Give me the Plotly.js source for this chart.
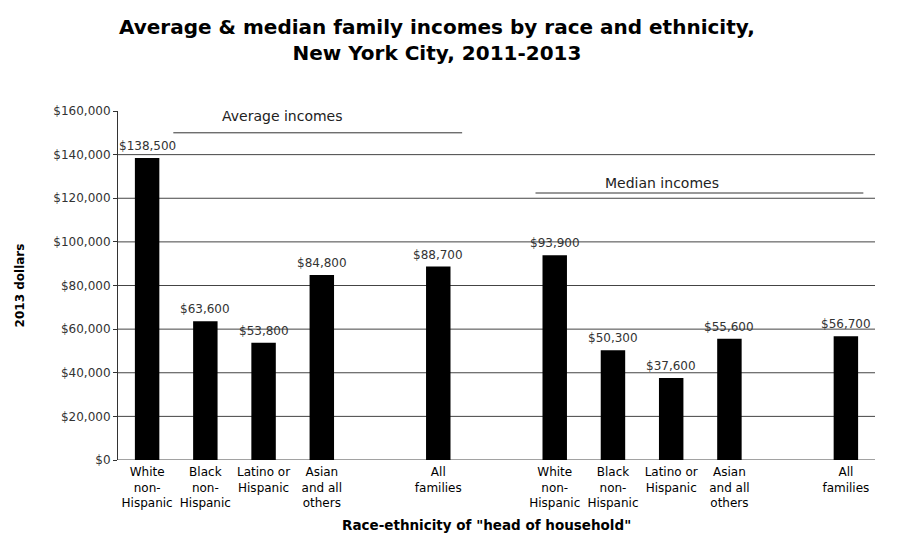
<!DOCTYPE html>
<html>
<head>
<meta charset="utf-8">
<script src="https://cdn.plot.ly/plotly-3.0.1.min.js"></script>
<style>
  body { margin: 0; background: #fff; }
  #plot { width: 900px; height: 549px; }
</style>
</head>
<body>
<div id="plot"></div>
<script>
// Categorias y valores (dolares de 2013)
const groupLabels = ['White<br>non-<br>Hispanic', 'Black<br>non-<br>Hispanic', 'Latino or<br>Hispanic', 'Asian<br>and all<br>others', 'All<br>families'];
const averageIncomes = [138500, 63600, 53800, 84800, 88700];
const medianIncomes = [93900, 50300, 37600, 55600, 56700];

// Posicion de cada barra: 4 grupos juntos, un hueco, "All families"
const slotOf = i => (i < 4 ? i : 5);
const MEDIAN_OFFSET = 7;

const xAvg = groupLabels.map((_, i) => slotOf(i));
const xMed = groupLabels.map((_, i) => slotOf(i) + MEDIAN_OFFSET);
const fmt = v => '$' + v.toLocaleString('en-US');

const FONT = 'DejaVu Sans, Liberation Sans, sans-serif';

const traces = [
    {
        type: 'bar', x: xAvg, y: averageIncomes,
        marker: { color: '#000' }, width: 0.42, showlegend: false, hoverinfo: 'skip'
    },
    {
        type: 'bar', x: xMed, y: medianIncomes,
        marker: { color: '#000' }, width: 0.42, showlegend: false, hoverinfo: 'skip'
    }
];

// Etiquetas de valor encima de cada barra
const annotations = [];
const allX = xAvg.concat(xMed);
const allV = averageIncomes.concat(medianIncomes);
allX.forEach((x, i) => {
    annotations.push({
        x, y: allV[i], xref: 'x', yref: 'y', text: fmt(allV[i]), showarrow: false,
        yanchor: 'bottom', yshift: 3, font: { family: FONT, size: 12, color: '#333' }
    });
});

annotations.push(
    { x: 2.32, y: 153000, xref: 'x', yref: 'y', text: 'Average incomes', showarrow: false,
      yanchor: 'bottom', font: { family: FONT, size: 14, color: '#222' } },
    { x: 8.85, y: 122600, xref: 'x', yref: 'y', text: 'Median incomes', showarrow: false,
      yanchor: 'bottom', font: { family: FONT, size: 14, color: '#222' } },
    // titulo
    { x: 0.421, y: 1, xref: 'paper', yref: 'paper', yanchor: 'bottom', yshift: 44, showarrow: false,
      text: '<b>Average & median family incomes by race and ethnicity,<br>New York City, 2011-2013</b>',
      font: { family: FONT, size: 20, color: '#000' } },
    // titulo del eje x
    { x: 0.487, y: -0.186, xref: 'paper', yref: 'paper', yanchor: 'middle', showarrow: false,
      text: '<b>Race-ethnicity of "head of household"</b>',
      font: { family: FONT, size: 13.5, color: '#000' } }
);

const shapes = [
    { type: 'line', xref: 'x', yref: 'y', x0: 0.45, x1: 5.41, y0: 150000, y1: 150000,
      line: { color: '#333', width: 1 } },
    { type: 'line', xref: 'x', yref: 'y', x0: 6.67, x1: 12.3, y0: 122400, y1: 122400,
      line: { color: '#333', width: 1 } }
];

// Lineas de cuadricula (sin la de $160,000)
[0, 20000, 40000, 60000, 80000, 100000, 120000, 140000].forEach(v => {
    shapes.push({
        type: 'line', xref: 'paper', yref: 'y', x0: 0, x1: 1, y0: v, y1: v,
        layer: 'below', line: { color: '#444', width: 1 }
    });
});

const layout = {
    width: 900, height: 549,
    margin: { l: 118, r: 25, t: 111, b: 89 },
    paper_bgcolor: '#fff', plot_bgcolor: '#fff',
    font: { family: FONT, size: 12, color: '#000' },
    xaxis: {
        range: [-0.5, 12.5],
        tickvals: allX,
        ticktext: groupLabels.concat(groupLabels),
        tickfont: { family: FONT, size: 12, color: '#000' },
        ticklabelstandoff: 3,
        showgrid: false, zeroline: false, ticks: ''
    },
    yaxis: {
        range: [0, 160000],
        tickvals: [0, 20000, 40000, 60000, 80000, 100000, 120000, 140000, 160000],
        ticktext: ['$0', '$20,000', '$40,000', '$60,000', '$80,000', '$100,000', '$120,000', '$140,000', '$160,000'],
        tickfont: { family: FONT, size: 12, color: '#333' },
        showgrid: false, zeroline: false,
        showline: true, linecolor: '#333', linewidth: 1,
        ticks: 'outside', ticklen: 4, tickcolor: '#333',
        title: { text: '<b>2013 dollars</b>', font: { family: FONT, size: 12 }, standoff: 26 }
    },
    annotations,
    shapes
};

Plotly.newPlot('plot', traces, layout, { displayModeBar: false, staticPlot: true });
</script>
</body>
</html>
